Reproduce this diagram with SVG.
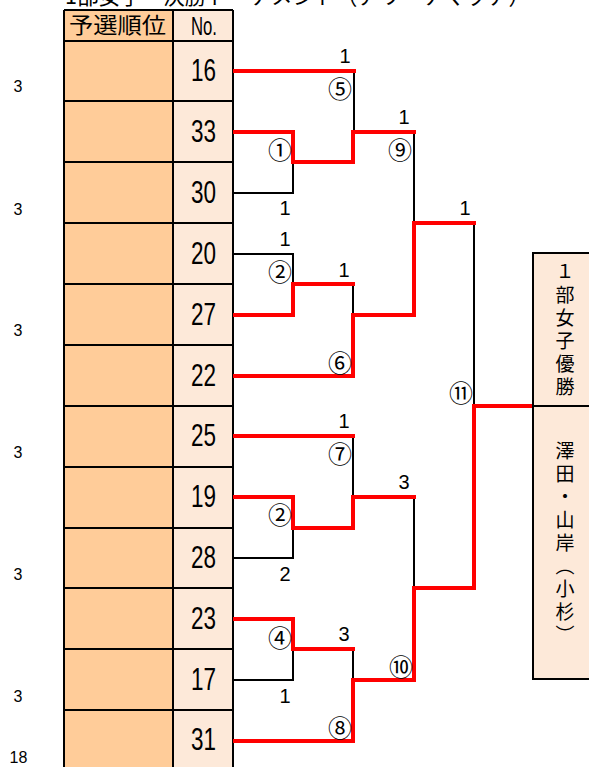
<svg xmlns="http://www.w3.org/2000/svg" width="589" height="767" viewBox="0 0 589 767">
<style>
.jp{font-family:"Noto Sans CJK JP","Liberation Sans",sans-serif;fill:#000}
.num{font-family:"Liberation Sans","Noto Sans CJK JP",sans-serif;fill:#000}
.grid{stroke:#000;stroke-width:2;fill:none}
.blk{stroke:#000;stroke-width:2;fill:none}
.red{stroke:#FF0000;stroke-width:4;fill:none;stroke-linejoin:miter;stroke-linecap:square}
.sc{font-family:"Liberation Sans",sans-serif;font-size:20px;text-anchor:middle;fill:#000}
.cn{font-family:"Noto Sans CJK JP",sans-serif;font-size:24px;text-anchor:middle;dominant-baseline:central;fill:#000}
.side{font-family:"Liberation Sans",sans-serif;font-size:16px;text-anchor:middle;fill:#000}
.no{font-family:"Liberation Sans",sans-serif;font-size:32px;fill:#000}
</style>
<rect width="589" height="767" fill="#FFFFFF"/>
<text class="jp" x="65" y="4" font-size="22" textLength="465" lengthAdjust="spacingAndGlyphs">1部女子　決勝トーナメント（アリーナマッチ）</text>
<g id="table">
<rect x="64" y="10" width="109" height="770" fill="#FFCC99"/>
<rect x="173" y="10" width="60" height="770" fill="#FDE9D9"/>
<path class="grid" d="M64,10 H233 M64,41 H233 M64,101 H233 M64,162 H233 M64,223 H233 M64,284 H233 M64,345 H233 M64,406 H233 M64,467 H233 M64,528 H233 M64,588 H233 M64,649 H233 M64,710 H233 M64,771 H233 M64,10 V780 M173,10 V780 M233,10 V780"/>
<text class="jp" x="69" y="33" font-size="22" textLength="97" lengthAdjust="spacingAndGlyphs">予選順位</text>
<text class="num" x="191" y="35" font-size="26" textLength="26" lengthAdjust="spacingAndGlyphs">No.</text>
</g>
<g id="seeds">
<text class="no" x="191" y="81" textLength="25" lengthAdjust="spacingAndGlyphs">16</text>
<text class="no" x="191" y="142" textLength="25" lengthAdjust="spacingAndGlyphs">33</text>
<text class="no" x="191" y="203" textLength="25" lengthAdjust="spacingAndGlyphs">30</text>
<text class="no" x="191" y="264" textLength="25" lengthAdjust="spacingAndGlyphs">20</text>
<text class="no" x="191" y="325" textLength="25" lengthAdjust="spacingAndGlyphs">27</text>
<text class="no" x="191" y="386" textLength="25" lengthAdjust="spacingAndGlyphs">22</text>
<text class="no" x="191" y="446" textLength="25" lengthAdjust="spacingAndGlyphs">25</text>
<text class="no" x="191" y="507" textLength="25" lengthAdjust="spacingAndGlyphs">19</text>
<text class="no" x="191" y="568" textLength="25" lengthAdjust="spacingAndGlyphs">28</text>
<text class="no" x="191" y="629" textLength="25" lengthAdjust="spacingAndGlyphs">23</text>
<text class="no" x="191" y="690" textLength="25" lengthAdjust="spacingAndGlyphs">17</text>
<text class="no" x="191" y="750" textLength="25" lengthAdjust="spacingAndGlyphs">31</text>
</g>
<g id="side-numbers">
<text class="side" x="18" y="92">3</text>
<text class="side" x="18" y="215">3</text>
<text class="side" x="18" y="336">3</text>
<text class="side" x="18" y="458">3</text>
<text class="side" x="18" y="580">3</text>
<text class="side" x="18" y="702">3</text>
<text class="side" x="18.5" y="763">18</text>
</g>
<g id="connectors">
<path class="blk" d="M354,71 V132"/>
<path class="blk" d="M233,193 H293 V162"/>
<path class="blk" d="M414,132 V223"/>
<path class="blk" d="M233,254 H293 V284"/>
<path class="blk" d="M353,284 V315"/>
<path class="blk" d="M474,223 V406"/>
<path class="blk" d="M353,436 V497"/>
<path class="blk" d="M233,558 H293 V528"/>
<path class="blk" d="M414,497 V588"/>
<path class="blk" d="M233,680 H293 V649"/>
<path class="blk" d="M353,649 V680"/>
<path class="red" d="M235,71 H354"/>
<path class="red" d="M235,132 H293 V162 H353 V132 H414"/>
<path class="red" d="M235,315 H293 V284 H353"/>
<path class="red" d="M235,376 H353 V315 H414 V223 H474"/>
<path class="red" d="M235,436 H353"/>
<path class="red" d="M235,497 H293 V528 H353 V497 H414"/>
<path class="red" d="M235,619 H293 V649 H353"/>
<path class="red" d="M235,741 H353 V680 H414 V588 H474 V406 H532"/>
</g>
<g id="scores">
<text class="sc" x="345" y="63">1</text>
<text class="sc" x="404" y="124">1</text>
<text class="sc" x="285" y="215">1</text>
<text class="sc" x="285" y="246">1</text>
<text class="sc" x="344" y="277">1</text>
<text class="sc" x="465" y="215">1</text>
<text class="sc" x="344" y="428">1</text>
<text class="sc" x="404" y="489">3</text>
<text class="sc" x="285" y="581">2</text>
<text class="sc" x="344" y="641">3</text>
<text class="sc" x="285" y="703">1</text>
</g>
<g id="match-labels">
<text class="cn" x="340" y="87">⑤</text>
<text class="cn" x="280" y="148">①</text>
<text class="cn" x="400" y="148">⑨</text>
<text class="cn" x="280" y="270">②</text>
<text class="cn" x="340" y="361">⑥</text>
<text class="cn" x="461" y="391">⑪</text>
<text class="cn" x="340" y="452">⑦</text>
<text class="cn" x="280" y="513">②</text>
<text class="cn" x="280" y="636">④</text>
<text class="cn" x="401" y="665">⑩</text>
<text class="cn" x="340" y="726">⑧</text>
</g>
<g id="champion">
<rect x="533" y="253" width="62" height="153" fill="#FDE9D9" stroke="#000" stroke-width="2"/>
<rect x="533" y="406" width="62" height="273" fill="#FDE9D9" stroke="#000" stroke-width="2"/>
<text class="jp" x="565" y="262" font-size="19" letter-spacing="4" style="writing-mode:vertical-rl">１部女子優勝</text>
<text class="jp" x="565" y="441" font-size="19" letter-spacing="4" style="writing-mode:vertical-rl">澤田・山岸（小杉）</text>
</g>
</svg>
